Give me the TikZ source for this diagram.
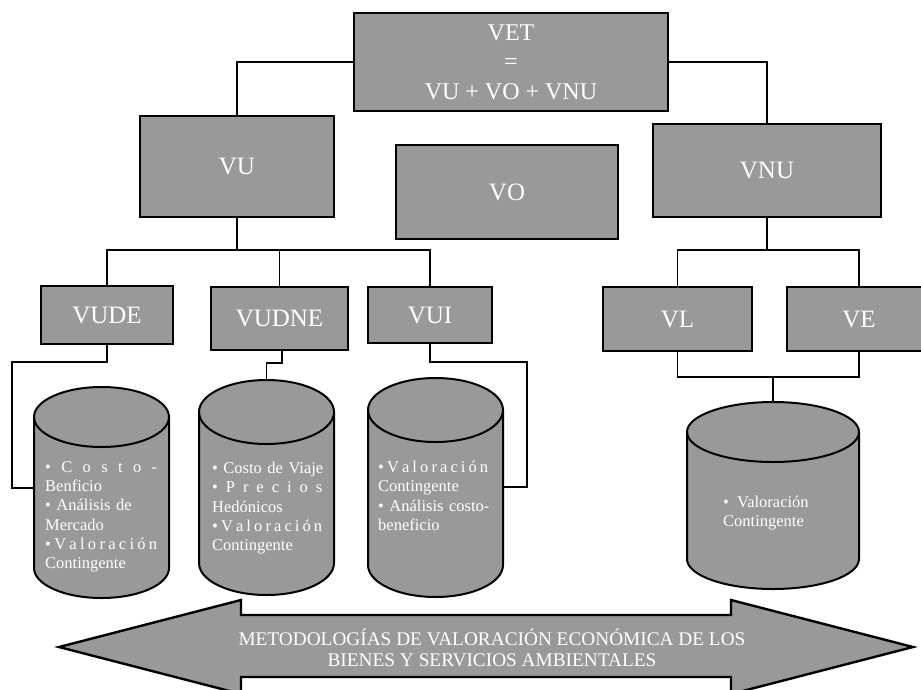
\documentclass[tikz,border=0pt]{standalone}
\usepackage{fontspec}
\setmainfont{Liberation Serif}
\definecolor{boxgray}{RGB}{153,153,153}
\tikzset{
  box/.style={draw=black, line width=2.4pt, fill=boxgray, text=white, inner sep=0pt,
    font=\fontsize{25}{30}\selectfont},
  conn/.style={line width=1.8pt, line join=miter},
  cylline/.style={draw=black, line width=2pt, fill=boxgray},
  bul/.style={text=white, anchor=north west, inner sep=0pt, align=left,
    font=\fontsize{16.5}{19.3}\selectfont},
}
\newcommand\lsp[1]{\leavevmode\hbox to\linewidth{#1}}
\newcommand\mycyl[6]{%
  \node[inner sep=0pt, minimum width={(#3-#2)*1pt}, minimum height={(#5-#4)*1pt}] (#1) at ({(#2+#3)/2},{(#4+#5)/2}) {};
  \draw[cylline] (#2,{#4+#6}) -- (#2,{#5-#6})
    arc[start angle=180, end angle=0, x radius={(#3-#2)/2}, y radius=#6]
    -- (#3,{#4+#6})
    arc[start angle=0, end angle=-180, x radius={(#3-#2)/2}, y radius=#6] -- cycle;
  \draw[cylline, fill=none] (#2,{#4+#6})
    arc[start angle=180, end angle=0, x radius={(#3-#2)/2}, y radius=#6];
}
\begin{document}
\begin{tikzpicture}[x=1pt, y=-1pt]
\useasboundingbox (0,0) rectangle (921,689);

% boxes
\node[box, minimum width=314pt, minimum height=98pt, align=center,
  font=\fontsize{24}{29.5}\selectfont] (vet) at (511,62) {VET\\=\\VU + VO + VNU};
\node[box, minimum width=194pt, minimum height=101pt] (vu) at (237,166.5) {VU};
\node[box, minimum width=222pt, minimum height=94pt] (vo) at (507,192) {VO};
\node[box, minimum width=228pt, minimum height=93pt] (vnu) at (767,170.5) {VNU};
\node[box, minimum width=132pt, minimum height=58pt] (vude) at (107,315) {VUDE};
\node[box, minimum width=137pt, minimum height=63pt] (vudne) at (279.5,318.5) {VUDNE};
\node[box, minimum width=124pt, minimum height=56pt] (vui) at (430,315) {VUI};
\node[box, minimum width=149pt, minimum height=64pt] (vl) at (677.5,319) {VL};
\node[box, minimum width=144pt, minimum height=64pt] (ve) at (859,319) {VE};

% cylinders
\mycyl{cyla}{34}{169}{387}{598}{30}
\mycyl{cylb}{199}{334}{380}{595}{32}
\mycyl{cylc}{368}{503}{378}{597}{32}
\mycyl{cylr}{687}{859}{402}{589}{30}

% connectors
\coordinate (busu) at (237,250);
\coordinate (busn) at (767,250);
\coordinate (busb) at (773,377);
\coordinate (a1) at (12,362);
\coordinate (a2) at (12,488);
\coordinate (c1) at (527,362);
\coordinate (c2) at (527,487);
\draw[conn] (vet.west) -| (vu.north);
\draw[conn] (vet.east) -| (vnu.north);
\draw[conn] (vu.south) -- (busu);
\draw[conn] (vude.north) |- (busu);
\draw[conn] (vui.north) |- (busu);
\draw[conn] (vudne.north) -- (vudne.north |- busu);
\draw[conn] (vnu.south) -- (busn);
\draw[conn] (vl.north) |- (busn);
\draw[conn] (ve.north) |- (busn);
\draw[conn] (vl.south) |- (busb);
\draw[conn] (ve.south) |- (busb);
\draw[conn] (busb) -- (cylr.north);
\draw[conn] (vude.south) |- (a1) -- (a2) -- (a2 -| cyla.west);
\draw[conn] ([xshift=2.5pt]vudne.south) -- ++(0,12) -| (cylb.north);
\draw[conn] (vui.south) |- (c1) -- (c2) -- (c2 -| cylc.east);

% cylinder texts
\node[bul, text width=112pt] (ta) at (45,461) {%
  \lsp{•\hfil C\hfil o\hfil s\hfil t\hfil o\hfil -}\\
  Benficio\\
  \makebox[\linewidth][s]{• Análisis de}\\
  Mercado\\
  \lsp{•\hfil V\hfil a\hfil l\hfil o\hfil r\hfil a\hfil c\hfil i\hfil ó\hfil n}\\
  Contingente};
\node[bul, text width=110pt] (tb) at (212,462) {%
  \makebox[\linewidth][s]{• Costo de Viaje}\\
  \lsp{•\hfil P\hfil r\hfil e\hfil c\hfil i\hfil o\hfil s}\\
  Hedónicos\\
  \lsp{•\hfil V\hfil a\hfil l\hfil o\hfil r\hfil a\hfil c\hfil i\hfil ó\hfil n}\\
  Contingente};
\node[bul, text width=110pt] (tc) at (378,461) {%
  \lsp{•\hfil V\hfil a\hfil l\hfil o\hfil r\hfil a\hfil c\hfil i\hfil ó\hfil n}\\
  Contingente\\
  \makebox[\linewidth][s]{• Análisis costo-}\\
  beneficio};
\node[bul] (tr) at (723,496) {•\ \ Valoración\\Contingente};

% double arrow
\draw[line width=2.4pt, fill=boxgray, line join=miter]
  (59,647) -- (241,600) -- (241,615) -- (731,615) -- (731,600) -- (913,647)
  -- (731,694) -- (731,677) -- (241,677) -- (241,694) -- cycle;
\node[text=white, align=center, inner sep=0pt, font=\fontsize{19.3}{21}\selectfont]
  (arrtxt) at (492,648) {METODOLOGÍAS DE VALORACIÓN ECONÓMICA DE LOS\\BIENES Y SERVICIOS AMBIENTALES};
\end{tikzpicture}
\end{document}
